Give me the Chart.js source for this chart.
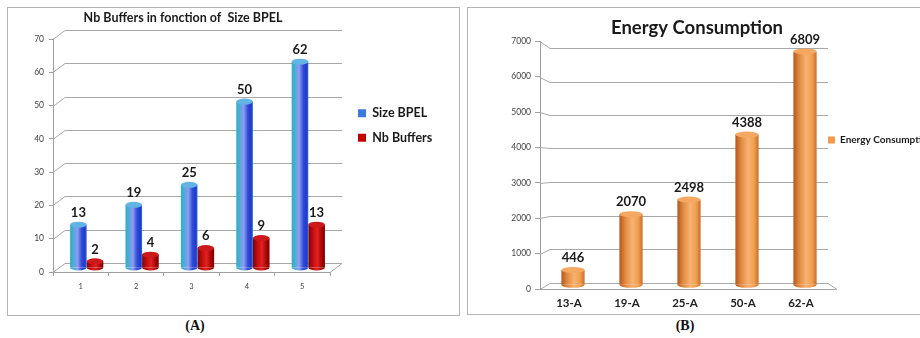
<!DOCTYPE html>
<html>
<head>
<meta charset="utf-8">
<script src="https://cdn.jsdelivr.net/npm/chart.js@4.4.1/dist/chart.umd.min.js"></script>
<style>
body { margin: 0; background: #fff; width: 920px; height: 338px; overflow: hidden; position: relative; }
.box { position: absolute; border: 1px solid #b4b4b4; box-sizing: border-box; }
#boxA { left: 7px; top: 7px; width: 453px; height: 309px; }
#boxB { left: 467px; top: 7px; width: 480px; height: 308px; }
canvas { position: absolute; }
#chartA { left: 7px; top: 7px; }
#chartB { left: 467px; top: 7px; }
.cap { position: absolute; top: 318px; width: 60px; text-align: center; font: bold 14px "Liberation Serif", serif; color: #111; }
</style>
</head>
<body>
<div class="box" id="boxA"></div>
<div class="box" id="boxB"></div>
<canvas id="chartA" width="451" height="308"></canvas>
<canvas id="chartB" width="470" height="308"></canvas>
<div class="cap" style="left:165px">(A)</div>
<div class="cap" style="left:655px">(B)</div>
<script>
// panel A
var catsA = ['1', '2', '3', '4', '5'];
var sizeBpel = [13, 19, 25, 50, 62];
var nbBuffers = [2, 4, 6, 9, 13];

// panel B
var catsB = ['13-A', '19-A', '25-A', '50-A', '62-A'];
var energy = [446, 2070, 2498, 4388, 6809];

// cylinder shading, left -> right
var blueStops = [[0, '#27b2c2'], [0.22, '#55a9dc'], [0.45, '#8e9cf0'], [0.7, '#2f4bd8'], [0.9, '#1f3acb'], [1, '#3a74dc']];
var redStops = [[0, '#840000'], [0.35, '#d01212'], [0.55, '#e02222'], [0.85, '#a00000'], [1, '#780000']];
var orangeStops = [[0, '#b4561a'], [0.25, '#e08a40'], [0.55, '#f8b272'], [0.8, '#f0a050'], [1, '#cc6c26']];

Chart.defaults.font.family = 'Lato';

function sideFill(c) {
	var el = c.element, ds = c.dataset;
	if (!el || !isFinite(el.x) || !el.width) return ds.cylSolid;
	var g = c.chart.ctx.createLinearGradient(el.x - el.width / 2, 0, el.x + el.width / 2, 0);
	ds.cylStops.forEach(function(s) { g.addColorStop(s[0], s[1]); });
	return g;
}

function legendItems(chart) {
	var items = Chart.defaults.plugins.legend.labels.generateLabels(chart);
	items.forEach(function(it) {
		var ds = chart.data.datasets[it.datasetIndex];
		it.fillStyle = ds.cylSolid;
		it.strokeStyle = ds.cylSolid;
		it.lineWidth = 0;
	});
	return items;
}

// back wall + floor, pseudo 3d bars with caps and value labels
var cyl3d = {
	id: 'cyl3d',
	beforeDatasetsDraw: function(chart, args, o) {
		var ctx = chart.ctx, a = chart.chartArea, ys = chart.scales.y;
		var c = (a.top + a.bottom) / 2;
		var back = function(y) { return c + (y - c) * o.wallK + o.wallDy; };
		ctx.save();
		ctx.strokeStyle = o.gridColor;
		ctx.lineWidth = 1;
		ys.ticks.forEach(function(t) {
			var y = Math.round(ys.getPixelForValue(t.value)) + 0.5;
			var yb = Math.round(back(y)) + 0.5;
			ctx.beginPath();
			ctx.moveTo(a.left, y);
			ctx.lineTo(a.left + o.wallDx, yb);
			ctx.lineTo(a.right + o.wallRx, yb);
			if (t.value === 0) {
				ctx.lineTo(a.right + o.floorRx, y);
				ctx.lineTo(a.right, y);
			}
			ctx.stroke();
		});
		ctx.restore();
		ctx.save();
		ctx.translate(o.dx, c * (1 - o.k) + o.dy);
		ctx.scale(1, o.k);
	},
	afterDatasetsDraw: function(chart, args, o) {
		var ctx = chart.ctx, a = chart.chartArea;
		var c = (a.top + a.bottom) / 2;
		ctx.restore();
		ctx.save();
		chart.data.datasets.forEach(function(ds, di) {
			chart.getDatasetMeta(di).data.forEach(function(el, i) {
				var x = el.x + o.dx, w = el.width;
				var yTop = c + (el.y - c) * o.k + o.dy;
				var yBase = c + (el.base - c) * o.k + o.dy;
				var g = ctx.createLinearGradient(x - w / 2, 0, x + w / 2, 0);
				ds.cylStops.forEach(function(s) { g.addColorStop(s[0], s[1]); });
				ctx.fillStyle = g;
				ctx.beginPath();
				ctx.ellipse(x, yBase, w / 2, o.ry, 0, 0, Math.PI);
				ctx.fill();
				ctx.fillStyle = ds.cylCap;
				ctx.beginPath();
				ctx.ellipse(x, yTop, w / 2, o.ry, 0, 0, Math.PI * 2);
				ctx.fill();
				ctx.fillStyle = o.color;
				ctx.font = o.font;
				ctx.textAlign = 'center';
				ctx.textBaseline = 'middle';
				ctx.fillText(String(ds.data[i]), x, yTop - o.labelGap);
			});
		});
		ctx.restore();
	}
};

// put the legend where the original had it (and let it run past its box)
var legendPos = {
	id: 'legendPos',
	afterLayout: function(chart, args, o) {
		var lg = chart.legend;
		if (!lg) return;
		lg.left = o.left;
		lg.right = chart.width;
		lg.width = chart.width - o.left;
		lg.top = o.top;
		lg.bottom = chart.height;
		lg.height = chart.height - o.top;
	}
};

var chartA = new Chart(document.getElementById('chartA'), {
	type: 'bar',
	data: {
		labels: catsA,
		datasets: [
			{label: 'Size BPEL', data: sizeBpel, backgroundColor: sideFill, cylStops: blueStops,
			cylSolid: '#3d7ae0', cylCap: '#62b4e4', categoryPercentage: 0.6, barPercentage: 1},
			{label: 'Nb Buffers', data: nbBuffers, backgroundColor: sideFill, cylStops: redStops,
			cylSolid: '#c00000', cylCap: '#cc1a1a', categoryPercentage: 0.6, barPercentage: 1}
		]
	},
	options: {
		responsive: false,
		animation: false,
		layout: {padding: {left: 0, top: 3, right: 99, bottom: 0}},
		scales: {
			x: {
				grid: {drawOnChartArea: false, tickLength: 4, color: '#a0a0a0'},
				border: {color: '#a0a0a0'},
				ticks: {font: {size: 7.5}, color: '#444', padding: 6},
				afterFit: function(s) { s.height = 43; }
			},
			y: {
				min: 0, max: 70,
				grid: {drawOnChartArea: false, tickLength: 4, color: '#a0a0a0'},
				border: {color: '#a0a0a0'},
				ticks: {stepSize: 10, font: {size: 8.5}, color: '#444', padding: 5},
				afterFit: function(s) { s.width = 46; }
			}
		},
		plugins: {
			title: {display: true, text: 'Nb Buffers in fonction of  Size BPEL',
				font: {size: 12.5, weight: 'bold'}, color: '#1a1a1a', padding: {top: 0, bottom: 14}},
			legend: {position: 'right', align: 'start', maxWidth: 29,
				labels: {boxWidth: 8, boxHeight: 8, padding: 12, color: '#1a1a1a',
				font: {size: 12.5, weight: 'bold'}, generateLabels: legendItems}},
			tooltip: {enabled: false},
			legendPos: {left: 339, top: 88},
			cyl3d: {dx: 6, dy: -4, k: 1, wallDx: 12, wallDy: -10, wallK: 1, wallRx: 12, floorRx: 0,
				ry: 3, labelGap: 12, gridColor: '#a8a8a8', font: 'bold 13px Lato', color: '#1a1a1a'}
		}
	},
	plugins: [cyl3d, legendPos]
});

var chartB = new Chart(document.getElementById('chartB'), {
	type: 'bar',
	data: {
		labels: catsB,
		datasets: [
			{label: 'Energy Consumption', data: energy, backgroundColor: sideFill, cylStops: orangeStops,
			cylSolid: '#f5994a', cylCap: '#f4a862', categoryPercentage: 0.8, barPercentage: 0.5}
		]
	},
	options: {
		responsive: false,
		animation: false,
		layout: {padding: {left: 0, top: 0, right: 10, bottom: 0}},
		scales: {
			x: {
				grid: {drawOnChartArea: false, drawTicks: false, color: '#a0a0a0'},
				border: {color: '#a0a0a0'},
				ticks: {font: {size: 11.5, weight: 'bold'}, color: '#222', padding: 7},
				afterFit: function(s) { s.height = 26; }
			},
			y: {
				min: 0, max: 7000,
				grid: {drawOnChartArea: false, tickLength: 5, color: '#a0a0a0'},
				border: {color: '#a0a0a0'},
				ticks: {stepSize: 1000, font: {size: 8.5}, color: '#444', padding: 4,
					callback: function(v) { return String(v); }},
				afterFit: function(s) { s.width = 73; }
			}
		},
		plugins: {
			title: {display: true, text: 'Energy Consumption',
				font: {size: 18.5, weight: 'bold'}, color: '#1a1a1a', padding: {top: 10, bottom: 2}},
			legend: {position: 'right', align: 'start', maxWidth: 97,
				labels: {boxWidth: 7, boxHeight: 7, padding: 10, color: '#1a1a1a',
				font: {size: 10, weight: 'bold'}, generateLabels: legendItems}},
			tooltip: {enabled: false},
			legendPos: {left: 351, top: 118},
			cyl3d: {dx: 4, dy: 0, k: 0.97, wallDx: 10, wallDy: 0, wallK: 0.944, wallRx: -2, floorRx: 7,
				ry: 3, labelGap: 12, gridColor: '#a8a8a8', font: 'bold 13px Lato', color: '#1a1a1a'}
		}
	},
	plugins: [cyl3d, legendPos]
});

// second pass so the bar gradients know where each bar sits
chartA.update();
chartB.update();
</script>
</body>
</html>
